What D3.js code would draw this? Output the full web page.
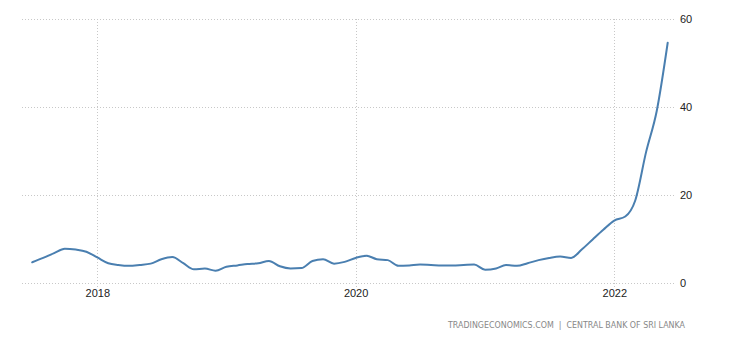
<!DOCTYPE html>
<html>
<head>
<meta charset="utf-8">
<script src="https://cdn.jsdelivr.net/npm/d3@7"></script>
<style>
  html, body { margin: 0; padding: 0; background: #fff; }
  svg { display: block; }
</style>
</head>
<body>
<svg id="chart" width="730" height="340"></svg>
<script>
// Sri Lanka inflation rate (CCPI, % year on year), monthly
const months = [
  "2017-07","2017-08","2017-09","2017-10","2017-11","2017-12",
  "2018-01","2018-02","2018-03","2018-04","2018-05","2018-06",
  "2018-07","2018-08","2018-09","2018-10","2018-11","2018-12",
  "2019-01","2019-02","2019-03","2019-04","2019-05","2019-06",
  "2019-07","2019-08","2019-09","2019-10","2019-11","2019-12",
  "2020-01","2020-02","2020-03","2020-04","2020-05","2020-06",
  "2020-07","2020-08","2020-09","2020-10","2020-11","2020-12",
  "2021-01","2021-02","2021-03","2021-04","2021-05","2021-06",
  "2021-07","2021-08","2021-09","2021-10","2021-11","2021-12",
  "2022-01","2022-02","2022-03","2022-04","2022-05","2022-06"
];
const inflation = [
  4.7, 5.7, 6.8, 7.8, 7.6, 7.1,
  5.8, 4.5, 4.1, 3.9, 4.1, 4.4,
  5.4, 5.9, 4.5, 3.1, 3.3, 2.8,
  3.7, 4.0, 4.3, 4.5, 5.0, 3.8,
  3.3, 3.4, 5.0, 5.4, 4.4, 4.8,
  5.7, 6.2, 5.4, 5.2, 3.9, 4.0,
  4.2, 4.1, 4.0, 4.0, 4.1, 4.2,
  3.0, 3.3, 4.1, 3.9, 4.5, 5.2,
  5.7, 6.0, 5.7, 7.6, 9.9, 12.1,
  14.2, 15.1, 18.7, 29.8, 39.1, 54.6
];
const yTicks = [0, 20, 40, 60];
const xTickYears = [2018, 2020, 2022];
const sourceText = "TRADINGECONOMICS.COM  |  CENTRAL BANK OF SRI LANKA";

const parse = d3.timeParse("%Y-%m");
const data = months.map((m, i) => ({ date: parse(m), value: inflation[i] }));

const svg = d3.select("#chart");
const plotLeft = 22, plotRight = 676, plotTop = 19, plotBottom = 283;

const x = d3.scaleTime()
  .domain([parse("2017-07"), parse("2022-06")])
  .range([32.2, 667.7]);
const y = d3.scaleLinear().domain([0, 60]).range([plotBottom, plotTop]);

const grid = "#c8c8c8";
const font = "'Liberation Sans', Arial, sans-serif";

// horizontal grid
svg.append("g").selectAll("line").data(yTicks).join("line")
  .attr("x1", plotLeft).attr("x2", plotRight)
  .attr("y1", d => Math.round(y(d)) + 0.5).attr("y2", d => Math.round(y(d)) + 0.5)
  .attr("stroke", grid).attr("stroke-width", 1).attr("stroke-dasharray", "1,2");

// vertical grid at year marks
const yearDates = xTickYears.map(yr => new Date(yr, 0, 1));
svg.append("g").selectAll("line").data(yearDates).join("line")
  .attr("x1", d => Math.round(x(d)) + 0.5).attr("x2", d => Math.round(x(d)) + 0.5)
  .attr("y1", plotTop).attr("y2", plotBottom + 4)
  .attr("stroke", grid).attr("stroke-width", 1).attr("stroke-dasharray", "1,2");

// y axis labels (right side)
const yAxis = d3.axisRight(y).tickValues(yTicks).tickSize(0).tickPadding(0);
const gy = svg.append("g").attr("transform", `translate(${plotRight + 4},0)`).call(yAxis);
gy.select(".domain").remove();
gy.selectAll("text").attr("font-family", font).attr("font-size", 11).attr("fill", "#222");

// x axis labels
const xAxis = d3.axisBottom(x).tickValues(yearDates).tickFormat(d3.timeFormat("%Y")).tickSize(0).tickPadding(0);
const gx = svg.append("g").attr("transform", `translate(0,${plotBottom + 6})`).call(xAxis);
gx.select(".domain").remove();
gx.selectAll("text").attr("font-family", font).attr("font-size", 11).attr("fill", "#222");

// the series line
const line = d3.line()
  .x(d => x(d.date))
  .y(d => y(d.value))
  .curve(d3.curveMonotoneX);

svg.append("path")
  .datum(data)
  .attr("d", line)
  .attr("fill", "none")
  .attr("stroke", "#4a7fb0")
  .attr("stroke-width", 2)
  .attr("stroke-linejoin", "round")
  .attr("stroke-linecap", "round");

// source credit
svg.append("text")
  .attr("x", 448).attr("y", 328)
  .attr("font-family", "'DejaVu Sans', Verdana, sans-serif").attr("font-size", 8)
  .attr("fill", "#888")
  .attr("xml:space", "preserve")
  .attr("textLength", 237)
  .attr("lengthAdjust", "spacingAndGlyphs")
  .text(sourceText);
</script>
</body>
</html>
